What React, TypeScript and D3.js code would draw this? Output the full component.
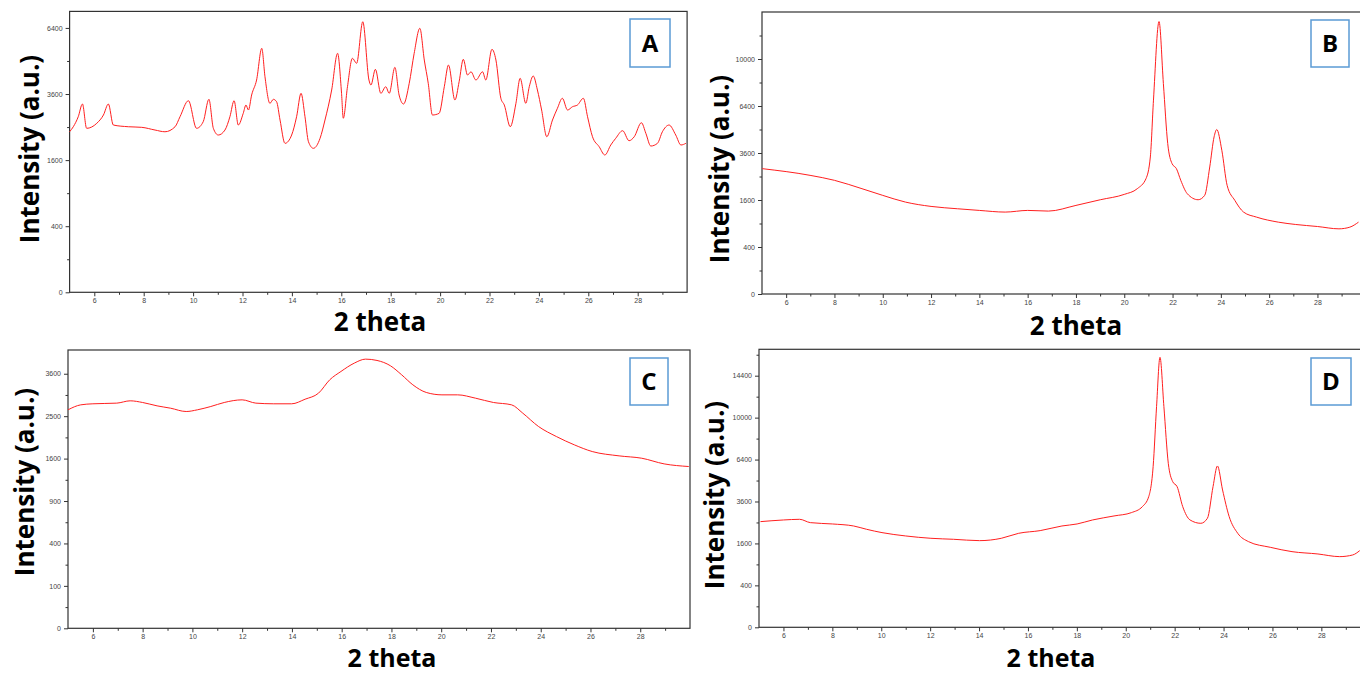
import * as d3 from "d3";
import { useEffect, useRef } from "react";

// 2 theta / intensity pairs
const thetaA = [5.0, 5.15, 5.35, 5.52, 5.69, 6.1, 6.37, 6.57, 6.77, 7.38, 7.92, 8.46, 8.86, 9.27, 9.47, 9.81, 10.14, 10.41, 10.64, 10.82, 11.02, 11.29, 11.49, 11.66, 11.83, 12.03, 12.14, 12.24, 12.37, 12.57, 12.78, 12.91, 13.11, 13.25, 13.38, 13.52, 13.72, 13.99, 14.19, 14.37, 14.53, 14.67, 14.87, 15.14, 15.34, 15.61, 15.85, 16.01, 16.08, 16.25, 16.45, 16.62, 16.87, 17.12, 17.2, 17.38, 17.6, 17.8, 17.94, 18.17, 18.34, 18.52, 18.75, 18.95, 19.18, 19.36, 19.52, 19.69, 19.96, 20.17, 20.34, 20.6, 20.77, 20.94, 21.11, 21.25, 21.45, 21.72, 21.85, 22.1, 22.26, 22.46, 22.6, 22.84, 23.07, 23.24, 23.47, 23.61, 23.77, 23.94, 24.11, 24.32, 24.55, 24.75, 24.95, 25.16, 25.36, 25.56, 25.8, 25.97, 26.17, 26.44, 26.67, 26.91, 27.11, 27.39, 27.65, 27.86, 28.15, 28.33, 28.53, 28.8, 29.0, 29.27, 29.54, 29.75, 29.95];
const intensityA = [2360, 2510, 2822, 3246, 2462, 2615, 2878, 3246, 2562, 2510, 2492, 2411, 2360, 2510, 2822, 3361, 2462, 2665, 3410, 2462, 2265, 2411, 2822, 3361, 2562, 2933, 3211, 3042, 3564, 4126, 5450, 4255, 3270, 3410, 3325, 2718, 2032, 2265, 2822, 3625, 2822, 2077, 1898, 2171, 2718, 3747, 5229, 3625, 2772, 3870, 5013, 4801, 6703, 4126, 3933, 4552, 3625, 3870, 3625, 4634, 3564, 3246, 3999, 5229, 6381, 4940, 3999, 2878, 2933, 3870, 4730, 3385, 4060, 4970, 4322, 4452, 4126, 4452, 4126, 5406, 4940, 3446, 3211, 2510, 3270, 4193, 3270, 3870, 4284, 3747, 3042, 2216, 2718, 3100, 3446, 3042, 3154, 3211, 3446, 2822, 2216, 1941, 1726, 1987, 2171, 2391, 2104, 2216, 2633, 2314, 1959, 2032, 2360, 2562, 2265, 1987, 2032];

const thetaB = [5.01, 6.99, 8.0, 9.14, 10.0, 10.94, 12.0, 13.09, 14.0, 15.07, 16.0, 16.86, 18.0, 19.01, 20.0, 20.54, 20.9, 21.08, 21.21, 21.44, 21.62, 21.8, 21.98, 22.16, 22.34, 22.61, 23.06, 23.33, 23.54, 23.72, 23.83, 24.04, 24.26, 24.58, 24.94, 25.48, 26.38, 27.1, 28.0, 28.89, 29.34, 29.7];
const intensityB = [2845, 2550, 2340, 2008, 1761, 1530, 1389, 1316, 1265, 1215, 1265, 1245, 1421, 1609, 1797, 2008, 2409, 3400, 6807, 13440, 8030, 4097, 3077, 2845, 2340, 1821, 1609, 1761, 2921, 4470, 4898, 3741, 2137, 1586, 1215, 1070, 935, 875, 825, 769, 809, 935];

const thetaC = [5.0, 5.51, 6.0, 6.96, 7.5, 8.0, 8.58, 9.12, 9.75, 10.2, 10.74, 11.28, 12.0, 12.55, 13.27, 13.99, 14.53, 15.07, 15.52, 15.97, 16.51, 16.96, 17.42, 17.96, 18.41, 18.86, 19.4, 20.03, 20.66, 21.38, 22.1, 22.83, 23.28, 23.91, 24.63, 25.35, 26.07, 27.15, 28.06, 28.96, 29.95];
const intensityC = [2652, 2774, 2800, 2817, 2875, 2833, 2749, 2692, 2611, 2652, 2733, 2833, 2900, 2817, 2800, 2800, 2916, 3072, 3431, 3664, 3908, 4025, 3986, 3829, 3570, 3294, 3090, 3028, 3028, 2942, 2833, 2774, 2571, 2263, 2043, 1870, 1736, 1652, 1607, 1502, 1454];

const thetaD = [5.06, 6.0, 6.66, 7.1, 8.0, 8.87, 9.4, 10.03, 11.0, 12.03, 12.96, 14.02, 14.91, 15.62, 16.5, 17.39, 18.01, 18.64, 19.52, 20.23, 20.68, 20.94, 21.12, 21.26, 21.4, 21.56, 21.74, 21.92, 22.1, 22.33, 22.63, 23.07, 23.34, 23.57, 23.75, 23.96, 24.23, 24.58, 25.02, 25.91, 26.8, 27.86, 28.75, 29.28, 29.57];
const intensityD = [2540, 2620, 2653, 2492, 2429, 2335, 2185, 2039, 1898, 1802, 1762, 1708, 1802, 2010, 2126, 2335, 2429, 2620, 2820, 2990, 3312, 3885, 5870, 11076, 16580, 11076, 6118, 4826, 4500, 3312, 2620, 2460, 2703, 4500, 5920, 4290, 2786, 2010, 1670, 1456, 1302, 1223, 1136, 1190, 1337];

// y tick values (square-root intensity axis)
const ticksA = [0, 400, 1600, 3600, 6400];
const minorA = [100, 900, 2500, 4900];
const ticksB = [0, 400, 1600, 3600, 6400, 10000];
const minorB = [100, 900, 2500, 4900, 8100, 12100];
const ticksC = [0, 100, 400, 900, 1600, 2500, 3600];
const minorC = [25, 225, 625, 1225, 2025, 3025];
const ticksD = [0, 400, 1600, 3600, 6400, 10000, 14400];
const minorD = [100, 900, 2500, 4900, 8100, 12100, 16900];

const panels = [
  { name: "A", theta: thetaA, intensity: intensityA, ticks: ticksA, minor: minorA, yMax: 7225,
    left: 69.6, unit: 24.7, top: 11.4, bottom: 292.3,
    xTitle: [380, 331], xSize: 26, yTitle: [31, 149], box: [630, 19, 40, 48] },
  { name: "B", theta: thetaB, intensity: intensityB, ticks: ticksB, minor: minorB, yMax: 14400,
    left: 762, unit: 24.15, top: 12, bottom: 294,
    xTitle: [1076, 335], xSize: 26, yTitle: [721, 169], box: [1311, 20, 38, 47] },
  { name: "C", theta: thetaC, intensity: intensityC, ticks: ticksC, minor: minorC, yMax: 4303,
    left: 68, unit: 24.88, top: 350, bottom: 628.3,
    xTitle: [392, 667], xSize: 25, yTitle: [26, 482], box: [630, 358, 38, 47] },
  { name: "D", theta: thetaD, intensity: intensityD, ticks: ticksD, minor: minorD, yMax: 17580,
    left: 759, unit: 24.45, top: 349.3, bottom: 627.3,
    xTitle: [1051, 667], xSize: 25, yTitle: [716, 495], box: [1311, 358, 40, 47] },
];

const axisColor = "#333";

function drawPanel(svg: any, p: any) {
  const right = p.left + 25 * p.unit;
  const x = d3.scaleLinear().domain([5, 30]).range([p.left, right]);
  const y = d3.scaleSqrt().domain([0, p.yMax]).range([p.bottom, p.top]);
  const g = svg.append("g");

  g.append("rect")
    .attr("x", p.left).attr("y", p.top)
    .attr("width", right - p.left).attr("height", p.bottom - p.top)
    .attr("fill", "none").attr("stroke", axisColor).attr("stroke-width", 1.2);

  const styleAxis = (sel: any) => {
    sel.select(".domain").remove();
    sel.selectAll("line").attr("stroke", axisColor).attr("stroke-width", 1);
    sel.selectAll("text")
      .attr("font-size", 7).attr("fill", "#444")
      .attr("font-family", "Liberation Sans, Arial, sans-serif");
  };

  g.append("g").attr("transform", `translate(0,${p.bottom})`)
    .call(d3.axisBottom(x).tickValues(d3.range(6, 30, 2)).tickSize(4).tickPadding(2).tickFormat(d3.format("d")))
    .call(styleAxis);
  g.append("g").attr("transform", `translate(0,${p.bottom})`)
    .call(d3.axisBottom(x).tickValues(d3.range(7, 30, 2)).tickSize(2.5).tickFormat(() => ""))
    .call(styleAxis);

  g.append("g").attr("transform", `translate(${p.left},0)`)
    .call(d3.axisLeft(y).tickValues(p.ticks).tickSize(4).tickPadding(3).tickFormat(d3.format("d")))
    .call(styleAxis);
  g.append("g").attr("transform", `translate(${p.left},0)`)
    .call(d3.axisLeft(y).tickValues(p.minor).tickSize(2.5).tickFormat(() => ""))
    .call(styleAxis);

  const line = d3.line<number>()
    .x((d, i) => x(p.theta[i]))
    .y((d) => y(d))
    .curve(d3.curveMonotoneX);
  g.append("path")
    .datum(p.intensity)
    .attr("d", line)
    .attr("fill", "none")
    .attr("stroke", "#ff1f1f")
    .attr("stroke-width", 1)
    .attr("stroke-linejoin", "round");

  g.append("text")
    .attr("x", p.xTitle[0]).attr("y", p.xTitle[1])
    .attr("text-anchor", "middle")
    .attr("font-family", "Open Sans, sans-serif").attr("font-weight", 700)
    .attr("font-size", p.xSize).attr("fill", "#000")
    .text("2 theta");

  g.append("text")
    .attr("transform", `translate(${p.yTitle[0]},${p.yTitle[1]}) rotate(-90)`)
    .attr("dy", "0.3em")
    .attr("text-anchor", "middle")
    .attr("font-family", "Open Sans, sans-serif").attr("font-weight", 700)
    .attr("font-size", 26).attr("fill", "#000")
    .text("Intensity (a.u.)");

  const [bx, by, bw, bh] = p.box;
  g.append("rect")
    .attr("x", bx).attr("y", by).attr("width", bw).attr("height", bh)
    .attr("fill", "#fff").attr("stroke", "#5b9bd5").attr("stroke-width", 1.5);
  g.append("text")
    .attr("x", bx + bw / 2).attr("y", by + bh / 2)
    .attr("dy", "0.36em")
    .attr("text-anchor", "middle")
    .attr("font-family", "Open Sans, sans-serif").attr("font-weight", 700)
    .attr("font-size", 24).attr("fill", "#000")
    .text(p.name);
}

const App = () => {
  const ref = useRef<SVGSVGElement>(null);

  useEffect(() => {
    const svg = d3.select(ref.current);
    svg.selectAll("*").remove();
    panels.forEach((p) => drawPanel(svg, p));
  }, []);

  return (
    <svg
      ref={ref}
      width={1360}
      height={675}
      style={{ position: "absolute", left: 0, top: 0, background: "#fff" }}
    />
  );
};

export default App;
